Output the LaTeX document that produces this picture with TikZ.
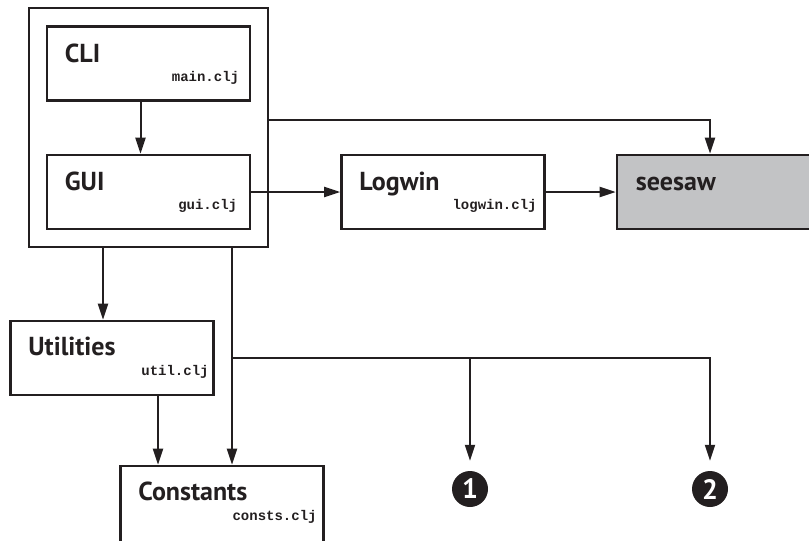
\documentclass[tikz,border=0pt]{standalone}
\usepackage{fontspec}
\setmainfont{PT Sans}
\newfontfamily\cljfont{Liberation Mono}
\usetikzlibrary{arrows.meta}

\definecolor{inkblack}{RGB}{35,31,32}
\definecolor{seesawgray}{RGB}{194,195,197}

\tikzset{
    modbox/.style={draw=inkblack, line width=2.6pt, minimum width=203pt,
        minimum height=74pt, inner sep=0pt},
    modtitle/.style={anchor=base west, inner sep=0pt, text=inkblack,
        font=\fontsize{26}{29}\selectfont\bfseries},
    modfile/.style={anchor=base east, inner sep=0pt, text=inkblack,
        font=\cljfont\fontsize{14}{16}\selectfont\bfseries},
    link/.style={draw=inkblack, line width=2pt,
        -{Triangle[length=16pt,width=10pt]}},
    callout/.style={circle, fill=inkblack, text=white, minimum size=36pt,
        inner sep=0pt, font=\fontsize{28}{28}\selectfont\bfseries}
}

\begin{document}
\begin{tikzpicture}[x=1pt, y=-1pt]
    \useasboundingbox (0,0) rectangle (809,541);

    % application frame around CLI and GUI
    \node[modbox, minimum width=239pt, minimum height=239pt] (app) at (148.5,127.5) {};

    \node[modbox] (cli) at (148.5,63.5) {};
    \node[modtitle] (clititle) at ([shift={(19pt,-37pt)}]cli.north west) {CLI};
    \node[modfile] (clifile) at ([shift={(-12pt,-56pt)}]cli.north east) {main.clj};

    \node[modbox] (gui) at (148.5,192) {};
    \node[modtitle] (guititle) at ([shift={(19pt,-37pt)}]gui.north west) {GUI};
    \node[modfile] (guifile) at ([shift={(-14pt,-56pt)}]gui.north east) {gui.clj};

    \node[modbox] (logwin) at (443,192) {};
    \node[modtitle] (logwintitle) at ([shift={(19pt,-37pt)}]logwin.north west) {Logwin};
    \node[modfile] (logwinfile) at ([shift={(-9pt,-56pt)}]logwin.north east) {logwin.clj};

    \node[modbox, fill=seesawgray, minimum width=204pt] (seesaw) at (719,192) {};
    \node[modtitle] (seesawtitle) at ([shift={(20pt,-37pt)}]seesaw.north west) {seesaw};

    \node[modbox] (util) at (112,358) {};
    \node[modtitle] (utiltitle) at ([shift={(19pt,-36pt)}]util.north west) {Utilities};
    \node[modfile] (utilfile) at ([shift={(-6pt,-56pt)}]util.north east) {util.clj};

    \node[modbox, minimum height=80pt] (consts) at (222,506) {};
    \node[modtitle] (conststitle) at ([shift={(19pt,-36pt)}]consts.north west) {Constants};
    \node[modfile] (constsfile) at ([shift={(-8pt,-56pt)}]consts.north east) {consts.clj};

    \node[callout] (one) at (470,489) {1};
    \node[callout] (two) at (710,489) {2};

    % connectors
    \coordinate (cliout) at ([xshift=-8pt]cli.south);
    \coordinate (utilin) at ([xshift=-9pt]util.north);
    \coordinate (utilout) at ([xshift=46pt]util.south);
    \coordinate (constsin) at ([xshift=10pt]consts.north);
    \coordinate (fork) at (232,358);

    \draw[link] (cliout) -- (cliout |- gui.north);
    \draw[link] ([yshift=8pt]app.east) -| ([xshift=-9pt]seesaw.north);
    \draw[link] (gui.east) -- (logwin.west);
    \draw[link] (logwin.east) -- (seesaw.west);
    \draw[link] (utilin |- app.south) -- (utilin);
    \draw[link] (utilout) -- (utilout |- consts.north);
    \draw[link] (constsin |- app.south) -- (constsin);
    \draw[link, shorten >=10pt] (fork) -| (two.north);
    \draw[link, shorten >=10pt] (one.north |- fork) -- (one.north);
\end{tikzpicture}
\end{document}
